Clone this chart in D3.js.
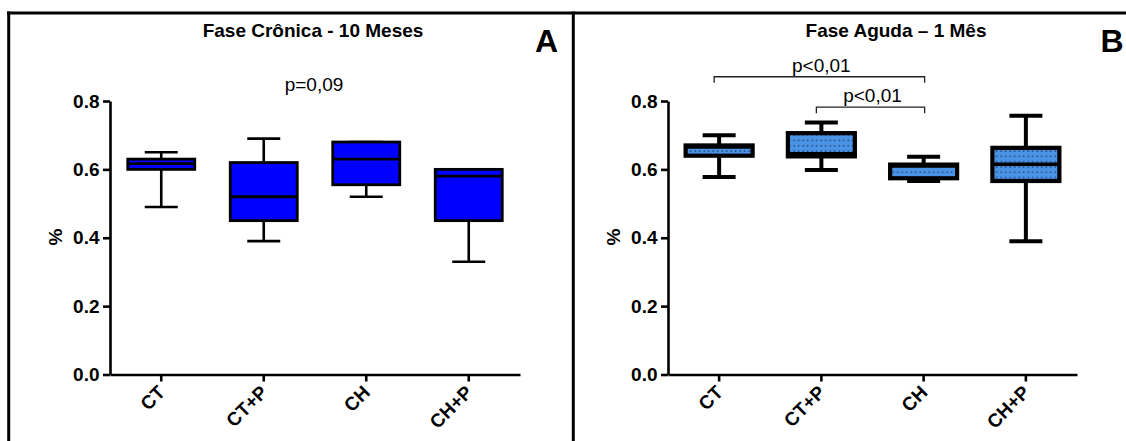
<!DOCTYPE html>
<html>
<head>
<meta charset="utf-8">
<script src="https://cdn.jsdelivr.net/npm/d3@7"></script>
<style>
  body { margin: 0; background: #fff; }
  svg { display: block; font-family: "Liberation Sans", Arial, sans-serif; }
</style>
</head>
<body>
<script>
// groups on the x axis (same in both panels)
const categories = ['CT', 'CT+P', 'CH', 'CH+P'];
const yTicks = [0, 0.2, 0.4, 0.6, 0.8];

// panel A - chronic phase, 10 months (min, Q1, median, Q3, max)
const chronicMin    = [0.49, 0.39, 0.52, 0.33];
const chronicQ1     = [0.60, 0.45, 0.555, 0.45];
const chronicMedian = [0.617, 0.52, 0.63, 0.58];
const chronicQ3     = [0.63, 0.62, 0.68, 0.60];
const chronicMax    = [0.65, 0.69, 0.68, 0.60];

// panel B - acute phase, 1 month
const acuteMin    = [0.578, 0.598, 0.566, 0.39];
const acuteQ1     = [0.64, 0.638, 0.574, 0.566];
const acuteMedian = [0.665, 0.646, 0.61, 0.615];
const acuteQ3     = [0.67, 0.706, 0.614, 0.663];
const acuteMax    = [0.70, 0.737, 0.637, 0.757];

// significance brackets in panel B
const bracketFrom   = ['CT', 'CT+P'];
const bracketTo     = ['CH', 'CH'];
const bracketLevel  = [0.871, 0.782];
const bracketLabels = ['p<0,01', 'p<0,01'];

const width = 1126, height = 441;
const svg = d3.select('body').append('svg')
	.attr('width', width)
	.attr('height', height);

const defs = svg.append('defs');
const pat = defs.append('pattern')
	.attr('id', 'dots')
	.attr('patternUnits', 'userSpaceOnUse')
	.attr('width', 4.5)
	.attr('height', 5.3);
pat.append('rect').attr('width', 4.5).attr('height', 5.3).attr('fill', '#4b93e6');
pat.append('rect').attr('x', 1.5).attr('y', 2).attr('width', 1.4).attr('height', 1.4).attr('fill', '#1d3a66');

// frame
svg.append('line').attr('x1', 7).attr('x2', width).attr('y1', 13).attr('y2', 13)
	.attr('stroke', '#000').attr('stroke-width', 3);
svg.append('line').attr('x1', 8.7).attr('x2', 8.7).attr('y1', 11.5).attr('y2', height)
	.attr('stroke', '#000').attr('stroke-width', 3);
svg.append('line').attr('x1', 573.3).attr('x2', 573.3).attr('y1', 11.5).attr('y2', height)
	.attr('stroke', '#000').attr('stroke-width', 3);

function drawPanel(p) {
	const g = svg.append('g');
	const x = d3.scaleBand().domain(categories).range([p.left, p.right]);
	const y = d3.scaleLinear().domain([0, 0.8]).range([374.5, 101]);
	const cx = (c) => x(c) + x.bandwidth() / 2;
	const boxW = 67, capW = 33;

	const rows = categories.map((c, i) => ({
		cat: c, min: p.min[i], q1: p.q1[i], med: p.med[i], q3: p.q3[i], max: p.max[i]
	}));

	const box = g.selectAll('g.box').data(rows).enter().append('g').attr('class', 'box');

	box.append('line')
		.attr('x1', (d) => cx(d.cat)).attr('x2', (d) => cx(d.cat))
		.attr('y1', (d) => y(d.max)).attr('y2', (d) => y(d.min))
		.attr('stroke', '#000').attr('stroke-width', p.whisker);
	box.append('line')
		.attr('x1', (d) => cx(d.cat) - capW / 2).attr('x2', (d) => cx(d.cat) + capW / 2)
		.attr('y1', (d) => y(d.max)).attr('y2', (d) => y(d.max))
		.attr('stroke', '#000').attr('stroke-width', p.whisker);
	box.append('line')
		.attr('x1', (d) => cx(d.cat) - capW / 2).attr('x2', (d) => cx(d.cat) + capW / 2)
		.attr('y1', (d) => y(d.min)).attr('y2', (d) => y(d.min))
		.attr('stroke', '#000').attr('stroke-width', p.whisker);
	box.append('rect')
		.attr('x', (d) => cx(d.cat) - boxW / 2)
		.attr('width', boxW)
		.attr('y', (d) => y(d.q3))
		.attr('height', (d) => y(d.q1) - y(d.q3))
		.attr('fill', p.fill)
		.attr('stroke', '#000').attr('stroke-width', p.boxStroke);
	box.append('line')
		.attr('x1', (d) => cx(d.cat) - boxW / 2).attr('x2', (d) => cx(d.cat) + boxW / 2)
		.attr('y1', (d) => y(d.med)).attr('y2', (d) => y(d.med))
		.attr('stroke', '#000').attr('stroke-width', p.medStroke);

	// axes
	const yAxis = g.append('g')
		.attr('transform', `translate(${p.left}, 0)`)
		.call(d3.axisLeft(y).tickValues(yTicks).tickFormat(d3.format('.1f')).tickSize(7).tickSizeOuter(0).tickPadding(3.5));
	yAxis.select('.domain').attr('stroke-width', 2.6);
	yAxis.selectAll('.tick line').attr('stroke-width', 2.6);
	yAxis.selectAll('.tick text')
		.attr('font-family', '"Liberation Sans", Arial, sans-serif')
		.attr('font-size', 19).attr('font-weight', 'bold').attr('fill', '#000');

	const xAxis = g.append('g')
		.attr('transform', 'translate(0, 374.5)')
		.call(d3.axisBottom(x).tickSize(7).tickSizeOuter(0));
	xAxis.select('.domain').attr('stroke-width', 2.6);
	xAxis.selectAll('.tick line').attr('stroke-width', 2.6);
	xAxis.selectAll('.tick text')
		.attr('font-family', '"Liberation Sans", Arial, sans-serif')
		.attr('font-size', 19).attr('font-weight', 'bold').attr('fill', '#000')
		.attr('text-anchor', 'end')
		.attr('y', 0).attr('dy', 0)
		.attr('transform', 'translate(5, 19) rotate(-45)');

	g.append('text')
		.attr('transform', `translate(${p.left - 55}, 237) rotate(-90)`)
		.attr('text-anchor', 'middle').attr('dy', '0.35em')
		.attr('font-size', 19).attr('font-weight', 'bold')
		.text('%');

	g.append('text')
		.attr('x', p.titleX).attr('y', 37)
		.attr('text-anchor', 'middle')
		.attr('font-size', 19).attr('font-weight', 'bold')
		.text(p.title);

	g.append('text')
		.attr('x', p.letterX).attr('y', 52)
		.attr('text-anchor', 'middle')
		.attr('font-size', 32).attr('font-weight', 'bold')
		.text(p.letter);

	return {g: g, x: cx, y: y};
}

const panelA = drawPanel({
	left: 110, right: 520, title: 'Fase Crônica - 10 Meses', titleX: 313,
	letter: 'A', letterX: 546.5,
	min: chronicMin, q1: chronicQ1, med: chronicMedian, q3: chronicQ3, max: chronicMax,
	fill: '#0000ff', boxStroke: 2.8, medStroke: 2.8, whisker: 2.6
});

panelA.g.append('text')
	.attr('x', 314).attr('y', 90.5)
	.attr('text-anchor', 'middle')
	.attr('font-size', 19)
	.text('p=0,09');

const panelB = drawPanel({
	left: 668, right: 1077, title: 'Fase Aguda – 1 Mês', titleX: 896,
	letter: 'B', letterX: 1112,
	min: acuteMin, q1: acuteQ1, med: acuteMedian, q3: acuteQ3, max: acuteMax,
	fill: 'url(#dots)', boxStroke: 4.2, medStroke: 3.4, whisker: 4
});

bracketFrom.forEach((from, i) => {
	const x1 = panelB.x(from) - 5, x2 = panelB.x(bracketTo[i]) + 1;
	const yy = panelB.y(bracketLevel[i]);
	panelB.g.append('path')
		.attr('d', `M${x1},${yy + 6}V${yy}H${x2}V${yy + 6}`)
		.attr('fill', 'none').attr('stroke', '#222').attr('stroke-width', 1.3);
	panelB.g.append('text')
		.attr('x', (panelB.x(from) + panelB.x(bracketTo[i])) / 2)
		.attr('y', yy - 5)
		.attr('text-anchor', 'middle')
		.attr('font-size', 19)
		.text(bracketLabels[i]);
});
</script>
</body>
</html>
